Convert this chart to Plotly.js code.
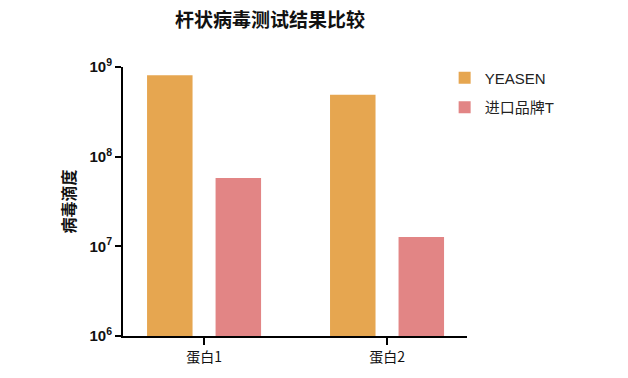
<!DOCTYPE html>
<html><head><meta charset="utf-8">
<script src="https://cdn.plot.ly/plotly-3.0.1.min.js"></script>
<style>body{margin:0;background:#fff}#c{width:628px;height:378px}</style>
</head><body><div id="c"></div>
<script>
const categories = ["蛋白1", "蛋白2"];
const yeasen = [8.1e8, 4.9e8];
const imported = [5.8e7, 1.27e7];
const seriesNames = ["YEASEN", "进口品牌T"];
const yTickVals = [1e6, 1e7, 1e8, 1e9];
const yTickText = ["10<sup>6</sup>", "10<sup>7</sup>", "10<sup>8</sup>", "10<sup>9</sup>"];

const font = "Liberation Sans, Noto Sans CJK SC, sans-serif";
const data = [
  {type: "bar", x: categories, y: yeasen, name: seriesNames[0], legendgroup: "a",
   marker: {color: "#E6A650"}},
  {type: "bar", x: categories, y: imported, name: seriesNames[1], legendgroup: "b",
   marker: {color: "#E28585"}}
];
const layout = {
  width: 628, height: 378,
  margin: {l: 123, r: 161, t: 67, b: 42},
  paper_bgcolor: "#fff", plot_bgcolor: "#fff",
  barmode: "group", bargap: 0.251, bargroupgap: 0.336,
  title: {text: "杆状病毒测试结果比较", x: 0.43, xanchor: "center", y: 0.945, yanchor: "middle",
          font: {family: "Noto Sans CJK SC", size: 19, color: "#111", weight: "bold"}},
  xaxis: {range: [-0.443, 1.437], showline: true, linecolor: "#000", linewidth: 2,
          ticks: "outside", ticklen: 7, tickwidth: 2, tickcolor: "#000",
          showgrid: false, zeroline: false,
          tickfont: {family: "Noto Sans CJK SC", size: 14, color: "#111"}},
  yaxis: {type: "log", range: [6, 9], showline: true, linecolor: "#000", linewidth: 2,
          ticks: "outside", ticklen: 6, tickwidth: 2, tickcolor: "#000",
          showgrid: false, zeroline: false,
          tickvals: yTickVals, ticktext: yTickText,
          tickfont: {family: font, size: 15, color: "#111", weight: "bold"},
          title: {text: "病毒滴度", standoff: 10,
                  font: {family: "Noto Sans CJK SC", size: 16, color: "#111", weight: "bold"}}},
  legend: {x: 0.935, xanchor: "left", y: 1.02, yanchor: "top", tracegroupgap: 7,
           traceorder: "grouped",
           font: {family: font, size: 15, color: "#222"}, bgcolor: "rgba(0,0,0,0)"},
  showlegend: true
};
Plotly.newPlot("c", data, layout, {displayModeBar: false, staticPlot: true});
</script></body></html>
